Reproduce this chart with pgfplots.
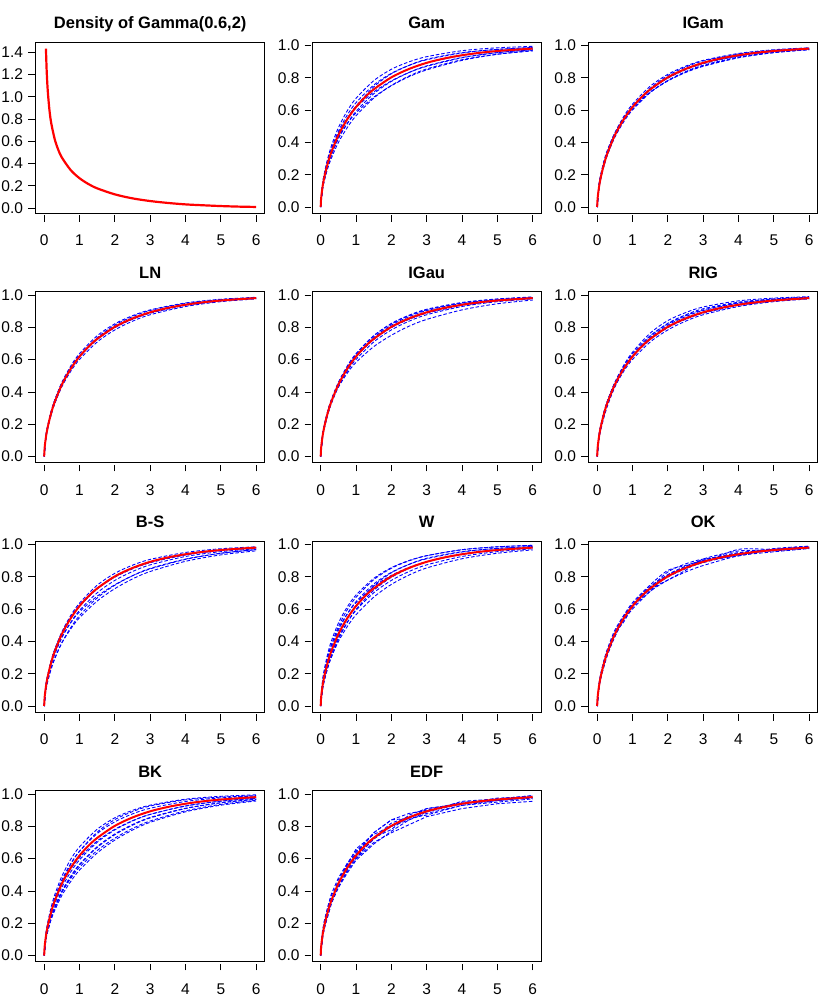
\documentclass[border=0pt]{standalone}
\usepackage{fontspec}
\setmainfont{Liberation Sans}
\usepackage{pgfplots}
\usepackage{pgfplotstable}
\pgfplotsset{compat=1.18}
\usepgfplotslibrary{groupplots}

% true Gamma(0.6, scale 2) density and cdf
\pgfplotstableread{
x     y
0.05  1.432
0.07  1.239
0.10  1.059
0.15  0.878
0.20  0.763
0.30  0.617
0.40  0.523
0.50  0.455
0.75  0.342
1.00  0.269
1.25  0.217
1.50  0.178
2.00  0.124
2.50  0.088
3.00  0.064
3.50  0.047
4.00  0.034
4.50  0.026
5.00  0.019
5.50  0.014
6.00  0.011
}\dens

\pgfplotstableread{
x     y
0     0
0.01  0.047
0.02  0.070
0.05  0.121
0.10  0.182
0.20  0.271
0.30  0.339
0.50  0.445
0.75  0.543
1.00  0.619
1.25  0.679
1.50  0.728
2.00  0.803
2.50  0.855
3.00  0.893
3.50  0.920
4.00  0.940
4.50  0.955
5.00  0.966
5.50  0.974
6.00  0.981
}\truecdf

% estimated cdfs
\pgfplotstableread{
x    c1   c2   c3   c4   c5   c6   c7   c8   c9   c10  c11  c12  c13  c14  c15  c16  c17  c18  t1   t2   t3   t4
0    0    0    0    0    0    0    0    0    0    0    0    0    0    0    0    0    0    0    0    0    0    0
0.05 .128 .114 .135 .107 .137 .105 .112 .130 .121 .100 .145 .121 .107 .098 .151 .125 .126 .097 .125 .118 .129 .113
0.1  .193 .171 .204 .160 .202 .162 .173 .191 .182 .149 .212 .182 .160 .151 .224 .188 .187 .152 .188 .177 .192 .172
0.2  .286 .256 .301 .241 .293 .249 .262 .280 .267 .225 .307 .274 .239 .230 .325 .278 .276 .235 .279 .263 .283 .260
0.3  .358 .320 .377 .301 .359 .319 .334 .344 .331 .280 .375 .345 .297 .292 .401 .347 .343 .303 .350 .329 .350 .329
0.5  .468 .422 .491 .399 .459 .431 .446 .444 .429 .372 .478 .457 .391 .392 .513 .453 .447 .412 .459 .432 .454 .438
0.75 .569 .517 .595 .491 .547 .539 .551 .535 .515 .458 .570 .564 .477 .485 .613 .549 .543 .516 .560 .527 .549 .541
1    .646 .592 .673 .565 .615 .623 .632 .606 .583 .529 .640 .646 .547 .560 .687 .624 .617 .598 .637 .601 .622 .621
1.5  .755 .701 .782 .674 .712 .744 .747 .709 .680 .635 .740 .764 .650 .669 .790 .730 .725 .716 .748 .709 .726 .736
2    .828 .778 .853 .753 .781 .825 .824 .782 .751 .715 .809 .842 .727 .748 .857 .803 .799 .797 .822 .784 .799 .814
2.5  .877 .833 .899 .811 .833 .877 .875 .835 .807 .777 .858 .891 .787 .807 .901 .854 .851 .852 .872 .838 .850 .866
3    .912 .874 .931 .855 .871 .915 .912 .874 .849 .825 .893 .926 .833 .852 .931 .892 .889 .893 .908 .878 .888 .904
4    .954 .926 .968 .912 .924 .956 .954 .926 .908 .890 .940 .964 .896 .910 .968 .939 .937 .940 .951 .929 .936 .948
5    .976 .956 .986 .946 .956 .976 .976 .956 .946 .931 .966 .981 .936 .946 .986 .966 .964 .966 .974 .959 .964 .971
6    .988 .974 .995 .967 .975 .987 .988 .974 .969 .957 .981 .990 .961 .968 .995 .982 .979 .981 .986 .976 .980 .984
}\est

\pgfplotstableread{
x    k1   k2   k3   k4   k5   k6
0    0    0    0    0    0    0
0.05 .130 .110 .120 .125 .115 .120
0.1  .200 .170 .190 .180 .180 .185
0.2  .290 .250 .280 .270 .260 .275
0.3  .360 .320 .350 .330 .330 .340
0.5  .470 .430 .440 .450 .430 .455
0.75 .560 .530 .550 .520 .540 .560
1    .640 .600 .630 .610 .620 .620
1.5  .750 .710 .740 .730 .720 .710
2    .840 .780 .810 .830 .780 .810
2.5  .870 .840 .860 .880 .830 .860
3    .900 .910 .890 .910 .870 .900
4    .930 .960 .970 .940 .930 .950
5    .970 .965 .970 .975 .955 .960
6    .985 .980 .990 .990 .975 .980
}\okest

\pgfplotstableread{
x    j1   j2   j3   j4   j5   j6   j7   j8
0    0    0    0    0    0    0    0    0
0.05 .15  .10  .13  .12  .14  .11  .12  .12
0.1  .21  .17  .20  .16  .21  .17  .19  .18
0.2  .30  .24  .29  .26  .30  .25  .28  .27
0.3  .38  .32  .34  .35  .37  .32  .33  .34
0.5  .48  .42  .47  .43  .45  .45  .44  .42
0.75 .57  .51  .56  .52  .54  .56  .57  .53
1    .63  .59  .66  .60  .64  .60  .65  .61
1.5  .76  .69  .75  .70  .76  .73  .73  .72
2    .84  .77  .80  .76  .84  .78  .82  .80
2.5  .85  .84  .85  .81  .88  .87  .86  .84
3    .87  .88  .91  .86  .90  .91  .89  .89
4    .93  .93  .94  .91  .95  .94  .955 .94
5    .95  .96  .97  .94  .96  .975 .97  .96
6    .97  .98  .99  .955 .98  .98  .99  .975
}\edfest

\pgfplotsset{
  rpanel/.style={
    scale only axis, width=229pt, height=171pt,
    xmin=-0.24, xmax=6.24, ymin=-0.039, ymax=1.02,
    xtick={0,1,2,3,4,5,6}, ytick={0,0.2,0.4,0.6,0.8,1.0},
    xtick pos=lower, ytick pos=left,
    tick align=outside, major tick length=6.5pt,
    xtick style={yshift=-2pt, line width=0.8pt, black},
    ytick style={xshift=-1pt, line width=0.8pt, black},
    axis line style={line width=0.9pt},
    /pgf/number format/assume math mode=true,
    yticklabel style={/pgf/number format/fixed, /pgf/number format/fixed zerofill,
      /pgf/number format/precision=1, anchor=east, inner sep=0pt, xshift=-6pt},
    xticklabel style={anchor=base, inner sep=0pt, yshift=-26pt},
    ticklabel style={font=\fontsize{15.5}{15.5}\selectfont},
    title style={font=\bfseries\fontsize{16.5}{16.5}\selectfont, at={(0.5,1)}, anchor=base, yshift=7.5pt},
  },
  blu/.style={blue, line width=0.9pt, dash pattern=on 3.5pt off 2pt, smooth},
  tru/.style={red, line width=2pt, smooth},
}

\begin{document}
\begin{tikzpicture}
\begin{groupplot}[group style={group size=3 by 4, horizontal sep=47.5pt, vertical sep=78.5pt}, rpanel]

\nextgroupplot[title={Density of Gamma(0.6,2)}, ymin=-0.046, ymax=1.489,
  ytick={0,0.2,0.4,0.6,0.8,1.0,1.2,1.4}]
\addplot[red, line width=2.2pt, smooth] table[x=x, y=y] {\dens};

\nextgroupplot[title={Gam}]
\pgfplotsinvokeforeach{c1,c2,c3,c4,c5,c6,c9,c16}{\addplot[blu] table[x=x, y=#1] {\est};}
\addplot[tru] table[x=x, y=y] {\truecdf};

\nextgroupplot[title={IGam}]
\pgfplotsinvokeforeach{t1,t2,t3,t4,c17,c16,c5,c8}{\addplot[blu] table[x=x, y=#1] {\est};}
\addplot[tru] table[x=x, y=y] {\truecdf};

\nextgroupplot[title={LN}]
\pgfplotsinvokeforeach{t1,t2,t3,t4,c16,c17}{\addplot[blu] table[x=x, y=#1] {\est};}
\addplot[tru] table[x=x, y=y] {\truecdf};

\nextgroupplot[title={IGau}]
\pgfplotsinvokeforeach{t1,t2,t3,t4,c16,c17,c9,c7}{\addplot[blu] table[x=x, y=#1] {\est};}
\addplot[tru] table[x=x, y=y] {\truecdf};

\nextgroupplot[title={RIG}]
\pgfplotsinvokeforeach{t1,t2,t3,t4,c16,c17,c12,c6}{\addplot[blu] table[x=x, y=#1] {\est};}
\addplot[tru] table[x=x, y=y] {\truecdf};

\nextgroupplot[title={B-S}]
\pgfplotsinvokeforeach{c16,c17,t1,t3,c9,c13,c14,c2}{\addplot[blu] table[x=x, y=#1] {\est};}
\addplot[tru] table[x=x, y=y] {\truecdf};

\nextgroupplot[title={W}]
\pgfplotsinvokeforeach{c1,c2,c3,c4,c6,c11,c15,c18}{\addplot[blu] table[x=x, y=#1] {\est};}
\addplot[tru] table[x=x, y=y] {\truecdf};

\nextgroupplot[title={OK}]
\pgfplotsinvokeforeach{k1,k2,k3,k4,k5,k6}{\addplot[blu] table[x=x, y=#1] {\okest};}
\pgfplotsinvokeforeach{t3,t4}{\addplot[blu] table[x=x, y=#1] {\est};}
\addplot[tru] table[x=x, y=y] {\truecdf};

\nextgroupplot[title={BK}]
\pgfplotsinvokeforeach{c1,c2,c3,c4,c10,c13,c14,c8,c12}{\addplot[blu] table[x=x, y=#1] {\est};}
\addplot[tru] table[x=x, y=y] {\truecdf};

\nextgroupplot[title={EDF}]
\pgfplotsinvokeforeach{j1,j2,j3,j4,j5,j6,j7,j8}{\addplot[blu, sharp plot] table[x=x, y=#1] {\edfest};}
\addplot[tru] table[x=x, y=y] {\truecdf};

\end{groupplot}
\pgfresetboundingbox
\path[use as bounding box] ([xshift=-35.7pt, yshift=42.3pt]group c1r1.north west) rectangle ++(830pt,-997pt);
\end{tikzpicture}
\end{document}
